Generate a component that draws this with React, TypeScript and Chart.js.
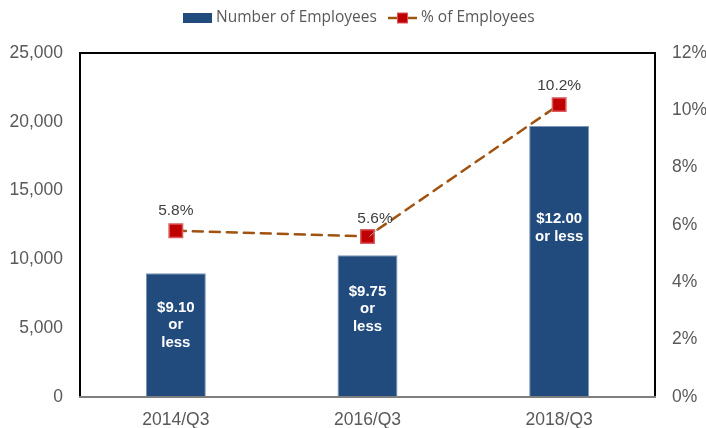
import React, { useEffect, useRef } from "react";
import { Chart, registerables } from "chart.js";

Chart.register(...registerables);

// ---- Data ----
const categories = ["2014/Q3", "2016/Q3", "2018/Q3"];
const employees = [9000, 10300, 19700];
const pctEmployees = [5.8, 5.6, 10.2];
const barTexts = [
  ["$9.10", "or", "less"],
  ["$9.75", "or", "less"],
  ["$12.00", "or less"],
];
const leftMax = 25000;
const leftStep = 5000;
const rightMax = 12;
const rightStep = 2;
const seriesNames = ["Number of Employees", "% of Employees"];

// ---- Styles ----
const BAR_COLOR = "#214A7D";
const BAR_BORDER = "#7C95B8";
const LINE_COLOR = "#A0520F";
const MARKER_FILL = "#C00000";
const MARKER_BORDER = "#DA5B5D";
const TICK_COLOR = "#595959";
const LABEL_COLOR = "#404040";
const TICK_FONT = { family: "'Liberation Sans', Arial, sans-serif", size: 17.5 };
const barTextAnchor = [0.418, 0.379, 0.376];
const pointLabelOffsets = [
  [0, -20],
  [7.5, -18],
  [0, -19],
];

const customPlugin = {
  id: "customDraw",
  beforeDatasetsDraw(chart: any) {
    const { ctx, chartArea } = chart;
    const { left, right, top, bottom } = chartArea;
    ctx.save();
    ctx.lineCap = "square";
    ctx.strokeStyle = "#000000";
    ctx.lineWidth = 2;
    ctx.beginPath();
    ctx.moveTo(left, bottom);
    ctx.lineTo(left, top);
    ctx.lineTo(right, top);
    ctx.lineTo(right, bottom);
    ctx.stroke();
    ctx.restore();
  },
  afterDatasetsDraw(chart: any) {
    const { ctx, chartArea } = chart;
    const { left, right, bottom } = chartArea;
    ctx.save();
    // bottom axis
    ctx.strokeStyle = "#7F7F7F";
    ctx.lineWidth = 2;
    ctx.beginPath();
    ctx.moveTo(left - 1, bottom);
    ctx.lineTo(right + 1, bottom);
    ctx.stroke();

    // bar texts
    const barMeta = chart.getDatasetMeta(0);
    ctx.fillStyle = "#FFFFFF";
    ctx.font = "bold 15px 'Liberation Sans', Arial, sans-serif";
    ctx.textAlign = "center";
    ctx.textBaseline = "middle";
    const lh = 17.5;
    barMeta.data.forEach((bar: any, i: number) => {
      const lines = barTexts[i];
      const h = bar.base - bar.y;
      const cy = bar.y + h * barTextAnchor[i];
      const startY = cy - ((lines.length - 1) * lh) / 2;
      lines.forEach((t, j) => ctx.fillText(t, bar.x, startY + j * lh));
    });

    // point labels
    const lineMeta = chart.getDatasetMeta(1);
    ctx.font = "15.5px 'Liberation Sans', Arial, sans-serif";
    ctx.fillStyle = LABEL_COLOR;
    lineMeta.data.forEach((pt: any, i: number) => {
      const [dx, dy] = pointLabelOffsets[i];
      ctx.fillText(pctEmployees[i].toFixed(1) + "%", pt.x + dx, pt.y + dy);
      if (dx !== 0) {
        ctx.strokeStyle = "#A6A6A6";
        ctx.lineWidth = 1;
        ctx.beginPath();
        ctx.moveTo(pt.x + 2, pt.y);
        ctx.lineTo(pt.x + 10, pt.y - 7);
        ctx.stroke();
      }
    });

    // legend
    const ly = 18;
    ctx.fillStyle = BAR_COLOR;
    ctx.fillRect(183, ly - 5, 29, 10);
    ctx.font = "15.5px 'Open Sans', sans-serif";
    ctx.fillStyle = TICK_COLOR;
    ctx.textAlign = "left";
    ctx.textBaseline = "middle";
    ctx.fillText(seriesNames[0], 216, ly);
    ctx.strokeStyle = LINE_COLOR;
    ctx.lineWidth = 2.5;
    ctx.beginPath();
    ctx.moveTo(388, ly);
    ctx.lineTo(417, ly);
    ctx.stroke();
    ctx.fillStyle = MARKER_FILL;
    ctx.fillRect(397.5, ly - 5, 10, 10);
    ctx.strokeStyle = MARKER_BORDER;
    ctx.lineWidth = 1;
    ctx.strokeRect(397.5, ly - 5, 10, 10);
    ctx.fillStyle = TICK_COLOR;
    ctx.fillText(seriesNames[1], 421, ly);
    ctx.restore();
  },
};

export default function App() {
  const canvasRef = useRef<HTMLCanvasElement | null>(null);

  useEffect(() => {
    document.body.style.margin = "0";
    const canvas = canvasRef.current;
    if (!canvas) return;
    const chart = new Chart(canvas, {
      type: "bar",
      data: {
        labels: categories,
        datasets: [
          {
            type: "bar",
            label: seriesNames[0],
            data: employees,
            yAxisID: "y",
            backgroundColor: BAR_COLOR,
            borderColor: BAR_BORDER,
            borderWidth: 1,
            barPercentage: 0.313,
            categoryPercentage: 1,
            order: 2,
          } as any,
          {
            type: "line",
            label: seriesNames[1],
            data: pctEmployees,
            yAxisID: "y1",
            borderColor: LINE_COLOR,
            borderWidth: 2.5,
            borderDash: [10, 7],
            borderCapStyle: "round",
            tension: 0,
            pointStyle: "rect",
            pointRadius: 9.5,
            pointHoverRadius: 9.5,
            pointBackgroundColor: MARKER_FILL,
            pointBorderColor: MARKER_BORDER,
            pointBorderWidth: 1.5,
            order: 1,
          } as any,
        ],
      },
      options: {
        responsive: false,
        animation: false,
        layout: { padding: { top: 53, left: 0, right: 0, bottom: 0 } },
        plugins: {
          legend: { display: false },
          tooltip: { enabled: false },
        },
        scales: {
          x: {
            grid: { display: false, drawTicks: false },
            border: { display: false },
            ticks: { font: TICK_FONT, color: TICK_COLOR, padding: 13 },
            afterFit: (s: any) => {
              s.height = 31;
            },
          },
          y: {
            position: "left",
            min: 0,
            max: leftMax,
            grid: { display: false, drawTicks: false },
            border: { display: false },
            ticks: {
              stepSize: leftStep,
              font: TICK_FONT,
              color: TICK_COLOR,
              padding: 17,
              callback: (v: any) => Number(v).toLocaleString("en-US"),
            },
            afterFit: (s: any) => {
              s.width = 80;
            },
          },
          y1: {
            position: "right",
            min: 0,
            max: rightMax,
            grid: { display: false, drawTicks: false },
            border: { display: false },
            ticks: {
              stepSize: rightStep,
              font: TICK_FONT,
              color: TICK_COLOR,
              padding: 17,
              callback: (v: any) => v + "%",
            },
            afterFit: (s: any) => {
              s.width = 51;
            },
          },
        },
      } as any,
      plugins: [customPlugin],
    });
    return () => chart.destroy();
  }, []);

  return (
    <div style={{ width: 706, height: 428 }}>
      <canvas ref={canvasRef} width={706} height={428} style={{ display: "block" }} />
    </div>
  );
}
